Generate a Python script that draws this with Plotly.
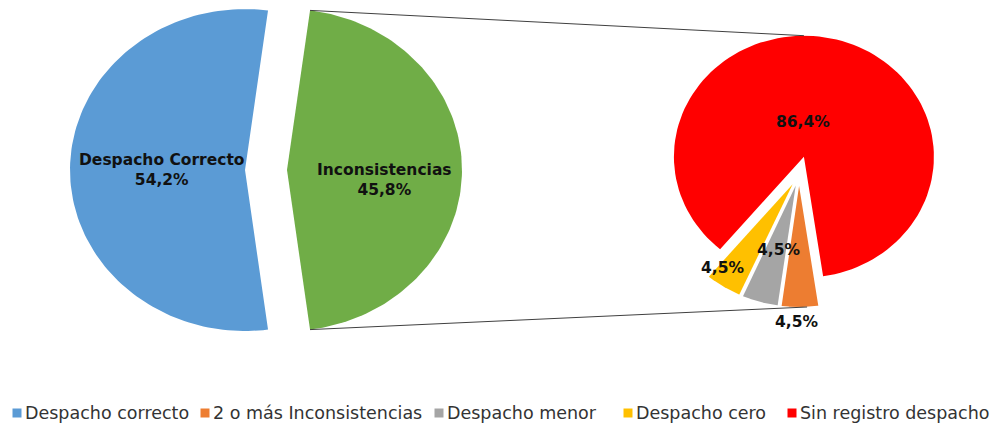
import numpy as np
import plotly.graph_objects as go

# main pie
main_labels = ["Despacho Correcto", "Inconsistencias"]
main_values = [54.2, 45.8]
main_colors = ["#5B9BD5", "#70AD47"]

# secondary pie (breakdown of Inconsistencias)
sub_labels = ["2 o más Inconsistencias", "Despacho menor", "Despacho cero", "Sin registro despacho"]
sub_values = [4.5, 4.5, 4.5, 86.4]
sub_colors = ["#ED7D31", "#A5A5A5", "#FFC000", "#FF0000"]

# legend order
legend_labels = ["Despacho correcto", "2 o más Inconsistencias", "Despacho menor",
                 "Despacho cero", "Sin registro despacho"]
legend_colors = ["#5B9BD5", "#ED7D31", "#A5A5A5", "#FFC000", "#FF0000"]


def pct(v):
    return f"{v:.1f}%".replace(".", ",")


def wedge(cx, cy, rx, ry, a0, a1, explode=0.0):
    """polygon of a slice, angles in degrees clockwise from 12 o'clock"""
    mid = np.radians((a0 + a1) / 2)
    px = cx + explode * np.sin(mid)
    py = cy - explode * np.cos(mid)
    t = np.radians(np.linspace(a0, a1, 120))
    xs = np.concatenate([[px], px + rx * np.sin(t), [px]])
    ys = np.concatenate([[py], py - ry * np.cos(t), [py]])
    return xs, ys, px, py


fig = go.Figure()

# ---- main pie, green slice centred on the right
MCX, MCY, MRX, MRY = 266, 170, 175, 161
tot = sum(main_values)
g_span = main_values[1] / tot * 360
starts = [90 + g_span / 2, 90 - g_span / 2]
spans = [main_values[0] / tot * 360, g_span]
main_edges = None
for lab, v, col, a0, sp in zip(main_labels, main_values, main_colors, starts, spans):
    xs, ys, px, py = wedge(MCX, MCY, MRX, MRY, a0, a0 + sp, explode=21)
    fig.add_trace(go.Scatter(x=xs, y=ys, fill="toself", fillcolor=col, mode="lines",
                             line=dict(width=0), hoverinfo="skip", showlegend=False))
    if lab == "Inconsistencias":
        # top and bottom corners of the green slice
        main_edges = (xs[1], ys[1], xs[-2], ys[-2])

# ---- secondary pie
SCX, SCY, SRX, SRY = 799, 174, 130, 121
stot = sum(sub_values)
a = 171.5
sub_pts = {}
for lab, v, col in zip(sub_labels, sub_values, sub_colors):
    sp = v / stot * 360
    ex = 18 if lab == "Sin registro despacho" else 12
    xs, ys, px, py = wedge(SCX, SCY, SRX, SRY, a, a + sp, explode=ex)
    fig.add_trace(go.Scatter(x=xs, y=ys, fill="toself", fillcolor=col, mode="lines",
                             line=dict(width=0), hoverinfo="skip", showlegend=False))
    sub_pts[lab] = (px, py)
    a += sp

# connector lines
top_end = (sub_pts["Sin registro despacho"][0], sub_pts["Sin registro despacho"][1] - SRY)
bot_end = (sub_pts["2 o más Inconsistencias"][0] + 8, sub_pts["2 o más Inconsistencias"][1] + SRY)
fig.add_trace(go.Scatter(x=[main_edges[0], top_end[0]], y=[main_edges[1], top_end[1]],
                         mode="lines", line=dict(color="#404040", width=1),
                         hoverinfo="skip", showlegend=False))
fig.add_trace(go.Scatter(x=[main_edges[2], bot_end[0]], y=[main_edges[3], bot_end[1]],
                         mode="lines", line=dict(color="#404040", width=1),
                         hoverinfo="skip", showlegend=False))

lbl_font = dict(family="DejaVu Sans", size=15.5, color="#111111")
annots = [
    (162, 170, f"<b>{main_labels[0]}<br>{pct(main_values[0])}</b>"),
    (384, 180, f"<b>{main_labels[1]}<br>{pct(main_values[1])}</b>"),
    (803, 122, f"<b>{pct(sub_values[3])}</b>"),
    (778, 250, f"<b>{pct(sub_values[1])}</b>"),
    (722, 268, f"<b>{pct(sub_values[2])}</b>"),
    (796, 322, f"<b>{pct(sub_values[0])}</b>"),
]
for x, y, t in annots:
    fig.add_annotation(x=x, y=y, text=t, showarrow=False, font=lbl_font,
                       xanchor="center", yanchor="middle")

# legend drawn by hand to match spacing
leg_sq_x = [17, 205, 439, 628, 792]
fig.add_trace(go.Scatter(x=leg_sq_x, y=[413] * 5, mode="markers",
                         marker=dict(symbol="square", size=9, color=legend_colors),
                         hoverinfo="skip", showlegend=False))
for x, t in zip(leg_sq_x, legend_labels):
    fig.add_annotation(x=x + 6, y=413, text=t, showarrow=False, xanchor="left", yanchor="middle",
                       font=dict(family="DejaVu Sans", size=17.5, color="#333333"))

fig.update_layout(
    width=994, height=428,
    margin=dict(l=0, r=0, t=0, b=0),
    paper_bgcolor="white", plot_bgcolor="white",
    xaxis=dict(range=[0, 994], visible=False, fixedrange=True),
    yaxis=dict(range=[428, 0], visible=False, fixedrange=True),
)

fig.write_html("out.html", config={"displayModeBar": False},
               post_script="document.body.style.margin='0';")
